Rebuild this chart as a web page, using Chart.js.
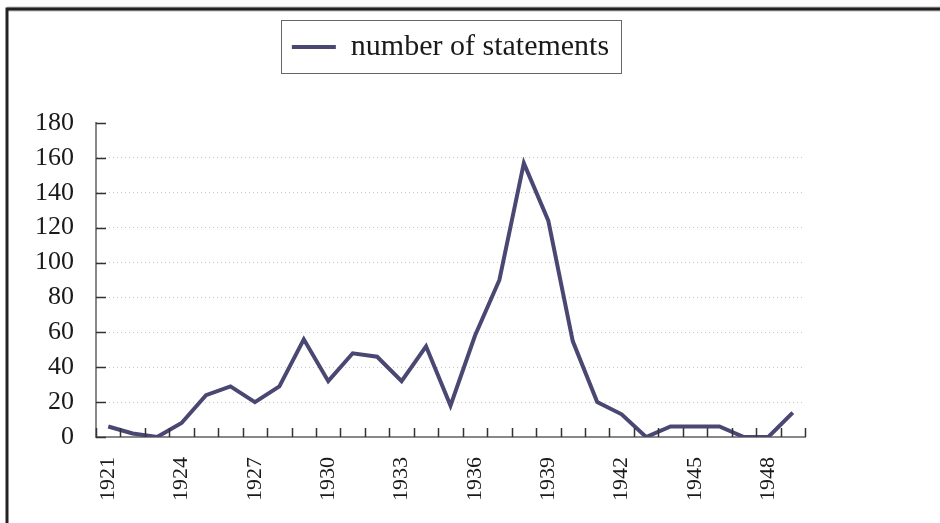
<!DOCTYPE html>
<html>
<head>
<meta charset="utf-8">
<script src="https://cdn.jsdelivr.net/npm/chart.js@4/dist/chart.umd.min.js"></script>
<style>
  html, body { margin: 0; padding: 0; background: #fff; }
  canvas { display: block; }
</style>
</head>
<body>
<canvas id="chart" width="940" height="523"></canvas>
<script>
const years = ['1921', '1922', '1923', '1924', '1925', '1926', '1927', '1928', '1929', '1930',
  '1931', '1932', '1933', '1934', '1935', '1936', '1937', '1938', '1939', '1940',
  '1941', '1942', '1943', '1944', '1945', '1946', '1947', '1948', '1949']
const statements = [6, 2, 0, 8, 24, 29, 20, 29, 56, 32,
  48, 46, 32, 52, 18, 58, 90, 157, 124, 55,
  20, 13, 0, 6, 6, 6, 0, 0, 14]
const xTickLabels = ['1921', '1924', '1927', '1930', '1933', '1936', '1939', '1942', '1945', '1948']
const yTicks = [0, 20, 40, 60, 80, 100, 120, 140, 160, 180]

const serif = "'Liberation Serif', 'Times New Roman', serif"
const lineColor = '#4a4873'

// frame, legend box and the short inward tick marks
const decorations = {
  id: 'decorations',
  beforeDraw(chart) {
    const ctx = chart.ctx
    ctx.save()
    ctx.strokeStyle = '#bbb'
    ctx.lineWidth = 5
    ctx.beginPath()
    ctx.moveTo(7, 9)
    ctx.lineTo(940, 9)
    ctx.stroke()
    ctx.strokeStyle = '#222'
    ctx.lineWidth = 3
    ctx.beginPath()
    ctx.moveTo(7, 523)
    ctx.lineTo(7, 9)
    ctx.lineTo(940, 9)
    ctx.stroke()
    ctx.restore()
  },
  afterDraw(chart) {
    const ctx = chart.ctx
    const area = chart.chartArea
    const x = chart.scales.x
    const y = chart.scales.y
    ctx.save()

    // legend frame
    const hb = chart.legend.legendHitBoxes[0]
    if (hb) {
      ctx.strokeStyle = '#666'
      ctx.lineWidth = 1
      ctx.strokeRect(Math.round(hb.left - 11) + 0.5, Math.round(hb.top - 12) + 0.5,
        Math.round(hb.width + 23), Math.round(hb.height + 23))
    }

    ctx.strokeStyle = '#333'
    ctx.lineWidth = 1.5
    ctx.beginPath()
    yTicks.forEach(v => {
      const py = Math.round(y.getPixelForValue(v)) + 0.5
      ctx.moveTo(area.left, py)
      ctx.lineTo(area.left + 10, py)
    })
    const half = (x.getPixelForValue(1) - x.getPixelForValue(0)) / 2
    for (let i = 0; i <= years.length; i++) {
      const px = Math.round(x.getPixelForValue(i) - half) + 0.5
      ctx.moveTo(px, area.bottom)
      ctx.lineTo(px, area.bottom - 9)
    }
    ctx.stroke()
    ctx.restore()
  }
}

new Chart(document.getElementById('chart'), {
  type: 'line',
  data: {
    labels: years,
    datasets: [{
      label: 'number of statements',
      data: statements,
      borderColor: lineColor,
      backgroundColor: lineColor,
      borderWidth: 4,
      pointRadius: 0,
      pointStyle: 'line',
      tension: 0,
      fill: false
    }]
  },
  options: {
    responsive: false,
    animation: false,
    layout: {
      padding: { top: 20, right: 135, bottom: 0, left: 0 }
    },
    plugins: {
      legend: {
        position: 'top',
        fullSize: false,
        labels: {
          usePointStyle: true,
          pointStyleWidth: 44,
          boxHeight: 30,
          padding: 12,
          color: '#1a1a1a',
          font: { family: serif, size: 30 }
        }
      },
      // spacer between legend and plot
      title: {
        display: true,
        text: '',
        weight: 500,
        font: { size: 10, lineHeight: 1 },
        padding: { top: 0, bottom: 41 }
      },
      tooltip: { enabled: false }
    },
    scales: {
      x: {
        offset: true,
        grid: { display: false, drawTicks: false },
        border: { display: true, color: '#888', width: 2 },
        afterFit(scale) { scale.height = 86 },
        ticks: {
          autoSkip: false,
          minRotation: 90,
          maxRotation: 90,
          padding: 20,
          color: '#1a1a1a',
          font: { family: serif, size: 22 },
          callback(value) {
            const lab = this.getLabelForValue(value)
            return xTickLabels.includes(lab) ? lab : ''
          }
        }
      },
      y: {
        min: 0,
        max: 180,
        afterFit(scale) { scale.width = 96 },
        grid: {
          drawTicks: false,
          lineWidth: 1,
          color: c => (c.tick && (c.tick.value === 0 || c.tick.value === 180)) ? 'rgba(0,0,0,0)' : '#c8c8c8'
        },
        border: { display: true, color: '#888', width: 2, dash: [1, 3] },
        ticks: {
          stepSize: 20,
          padding: 22,
          color: '#1a1a1a',
          font: { family: serif, size: 26 }
        }
      }
    }
  },
  plugins: [decorations]
})
</script>
</body>
</html>
